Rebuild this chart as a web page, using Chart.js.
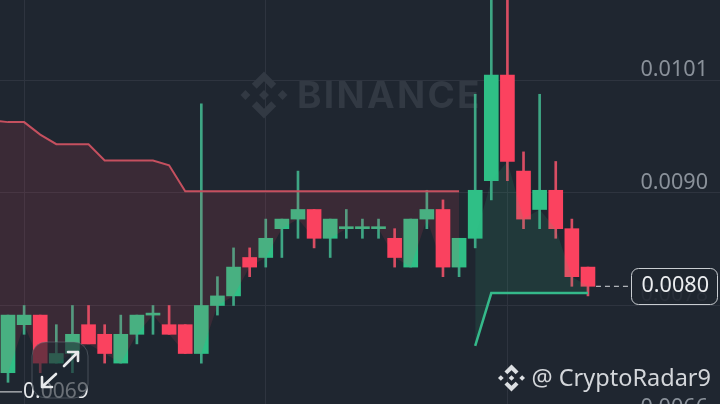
<!DOCTYPE html>
<html>
<head>
  <meta charset="UTF-8">
  <title>Binance candles</title>
  <script src="https://cdn.jsdelivr.net/npm/chart.js"></script>
  <style>
    body { margin: 0; background: #1f2630; overflow: hidden; }
    canvas { display: block; }
  </style>
</head>
<body>
  <canvas id="candles" width="720" height="404"></canvas>

  <script>
    // candle values, one entry per candle
    const opens  = [0.0071,0.0076,0.0077,0.0072,0.0073,0.0076,0.0075,0.0072,0.0075,0.0077,0.0076,0.0076,0.0073,0.0078,0.0079,0.0083,0.0083,0.0086,0.0087,0.0088,0.0085,0.0086,0.0086,0.0086,0.0085,0.0082,0.0087,0.0088,0.0082,0.0085,0.0091,0.0102,0.0092,0.0088,0.0090,0.0086,0.0082];
    const closes = [0.0077,0.0077,0.0072,0.0073,0.0075,0.0074,0.0073,0.0075,0.0077,0.0077,0.0075,0.0073,0.0078,0.0079,0.0082,0.0082,0.0085,0.0087,0.0088,0.0085,0.0087,0.0086,0.0086,0.0086,0.0083,0.0087,0.0088,0.0082,0.0085,0.0090,0.0102,0.0093,0.0087,0.0090,0.0086,0.0081,0.0080];
    const highs  = [0.0077,0.0078,0.0077,0.0076,0.0078,0.0078,0.0076,0.0077,0.0077,0.0078,0.0078,0.0076,0.0099,0.0081,0.0084,0.0084,0.0087,0.0087,0.0092,0.0088,0.0087,0.0088,0.0087,0.0087,0.0086,0.0087,0.0090,0.0089,0.0085,0.0100,0.0112,0.0112,0.0094,0.0100,0.0093,0.0087,0.0082];
    const lows   = [0.0070,0.0075,0.0071,0.0072,0.0071,0.0074,0.0072,0.0072,0.0074,0.0075,0.0075,0.0073,0.0072,0.0077,0.0078,0.0081,0.0082,0.0083,0.0085,0.0084,0.0083,0.0085,0.0085,0.0085,0.0082,0.0082,0.0086,0.0081,0.0081,0.0084,0.0089,0.0091,0.0086,0.0086,0.0085,0.0080,0.0079];

    // red stop line, starts one candle left of the first one
    const redStop = [0.00973,0.00971,0.00971,0.00958,0.00948,0.00948,0.00948,0.00931,0.00931,0.00931,0.00931,0.00926,0.00899,0.00899,0.00899,0.00899,0.00899,0.00899,0.00899,0.00899,0.00899,0.00899,0.00899,0.00899,0.00899,0.00899,0.00899,0.00899,0.00899,0.00899];
    // green stop line, from candle 29 to the last one
    const greenStop = [0.00738,0.00793,0.00793,0.00793,0.00793,0.00793,0.00793,0.00793];
    const greenStart = 29;

    const yTicks = [0.010146, 0.008972, 0.007805, 0.006633];
    const xGrid = [1, 16, 31];
    const lastPrice = 0.0080;
    const lowPrice = 0.0069;

    const UP = '#2fbf86', DOWN = '#fb425f';
    const UP_WICK = '#3ea684', DOWN_WICK = '#d84d63';
    const bodyTop = i => Math.min(opens[i], closes[i]);
    const isUp = i => closes[i] >= opens[i];

    function logo(ctx, cx, cy, r, color) {
      const shape = pts => {
        ctx.beginPath();
        pts.forEach((p, i) => i ? ctx.lineTo(cx + p[0] * r, cy + p[1] * r) : ctx.moveTo(cx + p[0] * r, cy + p[1] * r));
        ctx.closePath();
        ctx.fill();
      };
      const diamond = (x, h) => shape([[x - h, 0], [x, -h], [x + h, 0], [x, h]]);
      ctx.fillStyle = color;
      diamond(0, 0.21); diamond(-0.79, 0.21); diamond(0.79, 0.21);
      shape([[0, -1], [0.52, -0.48], [0.31, -0.27], [0, -0.58], [-0.31, -0.27], [-0.52, -0.48]]);
      shape([[0, 1], [0.52, 0.48], [0.31, 0.27], [0, 0.58], [-0.31, 0.27], [-0.52, 0.48]]);
    }

    const watermark = {
      id: 'watermark',
      beforeDatasetsDraw(chart) {
        const ctx = chart.ctx;
        ctx.save();
        logo(ctx, 264, 95, 23.5, '#323943');
        ctx.fillStyle = '#323943';
        ctx.font = 'bold 37px Inter';
        ctx.letterSpacing = '2.3px';
        ctx.textBaseline = 'alphabetic';
        ctx.fillText('BINANCE', 297, 108);
        ctx.restore();
      }
    };

    const overlays = {
      id: 'overlays',
      afterDraw(chart) {
        const ctx = chart.ctx, y = chart.scales.y, x = chart.scales.x;
        ctx.save();

        // low marker
        const lowY = y.getPixelForValue(lowPrice);
        ctx.strokeStyle = '#e6e8ea';
        ctx.lineWidth = 1;
        ctx.beginPath(); ctx.moveTo(0, lowY); ctx.lineTo(22, lowY); ctx.stroke();
        ctx.fillStyle = '#e6e8ea';
        ctx.font = '21px "Noto Sans"';
        ctx.textAlign = 'left';
        ctx.textBaseline = 'middle';
        ctx.fillText(lowPrice.toFixed(4), 23, lowY);

        // expand button
        ctx.beginPath();
        ctx.roundRect(32, 342, 56, 56, 14);
        ctx.fillStyle = 'rgba(31,38,48,0.62)';
        ctx.fill();
        ctx.strokeStyle = 'rgba(120,128,138,0.45)';
        ctx.stroke();
        ctx.strokeStyle = '#e8eaec';
        ctx.lineWidth = 2.6;
        ctx.lineCap = 'round';
        ctx.lineJoin = 'round';
        ctx.beginPath();
        ctx.moveTo(64, 366); ctx.lineTo(78, 352);
        ctx.moveTo(68, 352); ctx.lineTo(78, 352); ctx.lineTo(78, 361);
        ctx.moveTo(56, 374); ctx.lineTo(42, 387);
        ctx.moveTo(42, 377); ctx.lineTo(42, 387); ctx.lineTo(52, 387);
        ctx.stroke();

        // last price line and tag
        const lastY = y.getPixelForValue(lastPrice);
        ctx.lineWidth = 1;
        ctx.lineCap = 'butt';
        ctx.strokeStyle = '#d8dbde';
        ctx.setLineDash([5, 4]);
        ctx.beginPath(); ctx.moveTo(x.getPixelForValue(36) + 8, lastY); ctx.lineTo(632, lastY); ctx.stroke();
        ctx.setLineDash([]);
        ctx.beginPath();
        ctx.roundRect(631.5, 268.5, 86, 36, 7);
        ctx.fillStyle = 'rgba(31,38,48,0.92)';
        ctx.fill();
        ctx.strokeStyle = '#c9cdd1';
        ctx.stroke();
        ctx.fillStyle = '#eceef0';
        ctx.font = '21.6px "Noto Sans"';
        ctx.textAlign = 'right';
        ctx.fillText(lastPrice.toFixed(4), 709, lastY);

        // handle
        logo(ctx, 511.5, 378, 13.5, '#dcdfe2');
        ctx.fillStyle = '#d3d6da';
        ctx.font = '23.5px "Noto Sans"';
        ctx.textBaseline = 'alphabetic';
        ctx.fillText('@ CryptoRadar9', 711, 386);
        ctx.restore();
      }
    };

    new Chart(document.getElementById('candles'), {
      type: 'bar',
      data: {
        datasets: [
          {
            // red line, fills down to the candle bodies
            type: 'line',
            data: redStop.map((v, i) => ({ x: i - 1, y: v })),
            borderColor: '#c5505f',
            borderWidth: 2,
            pointRadius: 0,
            tension: 0,
            fill: { target: 1, above: 'rgba(246,70,93,0.125)', below: 'rgba(246,70,93,0.125)' },
            order: 2
          },
          {
            type: 'line',
            data: redStop.map((v, i) => ({ x: i - 1, y: i ? bodyTop(i - 1) : 0.0071 })),
            borderWidth: 0,
            pointRadius: 0,
            tension: 0,
            fill: false,
            order: 6
          },
          {
            // green line, fills up to the candle bodies
            type: 'line',
            data: greenStop.map((v, i) => ({ x: greenStart + i, y: v })),
            borderColor: '#35b98a',
            borderWidth: 2.5,
            pointRadius: 0,
            tension: 0,
            fill: { target: 3, above: 'rgba(46,189,133,0.13)', below: 'rgba(46,189,133,0.13)' },
            order: 1
          },
          {
            type: 'line',
            data: greenStop.map((v, i) => ({ x: greenStart + i, y: bodyTop(greenStart + i) })),
            borderWidth: 0,
            pointRadius: 0,
            tension: 0,
            fill: false,
            order: 6
          },
          {
            // wicks
            data: highs.map((h, i) => ({ x: i, y: [lows[i], h] })),
            backgroundColor: highs.map((h, i) => isUp(i) ? UP_WICK : DOWN_WICK),
            barThickness: 2,
            grouped: false,
            order: 4
          },
          {
            // bodies
            data: opens.map((o, i) => ({ x: i, y: [o, closes[i]] })),
            backgroundColor: opens.map((o, i) => isUp(i) ? UP : DOWN),
            barThickness: 14,
            minBarLength: 2,
            grouped: false,
            order: 3
          }
        ]
      },
      options: {
        responsive: false,
        animation: false,
        layout: { padding: 0 },
        plugins: { legend: { display: false }, tooltip: { enabled: false } },
        scales: {
          x: {
            type: 'linear',
            offset: false,
            min: -0.4966,
            max: 44.196,
            afterBuildTicks: s => { s.ticks = xGrid.map(v => ({ value: v })); },
            afterFit: s => { s.paddingLeft = 0; s.paddingRight = 0; },
            grid: { color: '#2e343f', lineWidth: 1, offset: false, drawTicks: false },
            border: { display: false },
            ticks: { display: false }
          },
          y: {
            position: 'right',
            min: 0.006774,
            max: 0.010982,
            afterBuildTicks: s => { s.ticks = yTicks.map(v => ({ value: v })); },
            afterFit: s => { s.paddingTop = 0; s.paddingBottom = 0; s.width = 0; },
            grid: { color: '#2e343f', lineWidth: 1, drawTicks: false },
            border: { display: false },
            ticks: {
              mirror: true,
              padding: -12,
              labelOffset: -10,
              autoSkip: false,
              color: '#8a919a',
              font: { family: '"Noto Sans"', size: 21.6 },
              callback: v => v.toFixed(4)
            }
          }
        }
      },
      plugins: [watermark, overlays]
    });
  </script>
</body>
</html>
